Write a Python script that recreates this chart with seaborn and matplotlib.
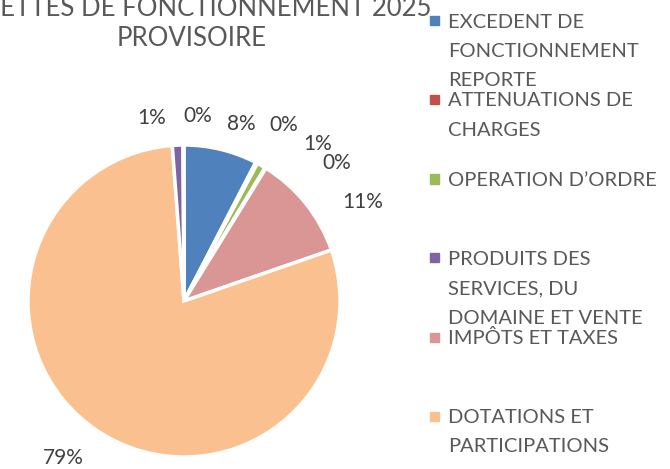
import matplotlib
matplotlib.use("Agg")
import matplotlib.pyplot as plt
import seaborn as sns
import numpy as np
from matplotlib.patches import Rectangle

# data (share of the 2025 provisional operating revenue, in %)
categories = ["EXCEDENT DE\nFONCTIONNEMENT\nREPORTE",
              "ATTENUATIONS DE\nCHARGES",
              "OPERATION D’ORDRE",
              "PRODUITS DES\nSERVICES, DU\nDOMAINE ET VENTE",
              "IMPÔTS ET TAXES",
              "DOTATIONS ET\nPARTICIPATIONS",
              "AUTRES PRODUITS DE\nGESTION COURANTE",
              "PRODUITS\nEXCEPTIONNELS"]
shares = [7.6, 0.2, 0.9, 0.1, 10.9, 79.1, 1.1, 0.1]
slice_colors = ["#4F81BD", "#C0504D", "#9BBB59", "#8064A2",
                "#D99694", "#FAC090", "#8064A2", "#4BACC6"]
n_legend = 6  # only the first six entries fit in the legend box

# label placement (Excel "best fit" look): angle shift (deg, clockwise) and distance
label_shift = [4.2, 1.9, 10.8, 16.3, 9.7, 4.3, -7.8, 4.5]
label_dist = [1.19, 1.30, 1.32, 1.32, 1.31, 1.27, 1.19, 1.19]

sns.set_theme(style="white")
plt.rcParams['font.family'] = ['Lato', 'DejaVu Sans']

W, H = 670, 469
fig = plt.figure(figsize=(W / 100, H / 100), dpi=100)

cx, cy, r = 184, 301, 156
ax = fig.add_axes([(cx - r) / W, (H - cy - r) / H, 2 * r / W, 2 * r / H])
wedges, _ = ax.pie(shares, colors=slice_colors, startangle=90, counterclock=False,
                   wedgeprops=dict(edgecolor="white", linewidth=2.5))
ax.set_xlim(-1, 1)
ax.set_ylim(-1, 1)
ax.set_aspect("equal")
ax.axis("off")

for w, v, sh, d in zip(wedges, shares, label_shift, label_dist):
    mid = np.deg2rad((w.theta1 + w.theta2) / 2 - sh)
    ax.text(d * np.cos(mid), d * np.sin(mid), "%d%%" % round(v),
            ha="center", va="center", fontsize=15, color="#404040")

# title (top line runs off the canvas like in the original)
fig.text(192 / W, 1 - 16 / H, "RECETTES DE FONCTIONNEMENT 2025", ha="center",
         va="baseline", fontsize=18.5, color="#595959")
fig.text(192 / W, 1 - 46 / H, "PROVISOIRE", ha="center", va="baseline",
         fontsize=18.5, color="#595959")

# legend
y0, step, line_h = 21, 79, 29.5
for i in range(n_legend):
    y = y0 + i * step
    fig.patches.append(Rectangle((430 / W, 1 - (y + 4.5) / H), 9 / W, 9 / H,
                                 transform=fig.transFigure, color=slice_colors[i]))
    for j, line in enumerate(categories[i].split("\n")):
        fig.text(448 / W, 1 - (y + 1 + j * line_h) / H, line, ha="left", va="center",
                 fontsize=14.5, color="#595959")

fig.savefig("out.png", dpi=100)
